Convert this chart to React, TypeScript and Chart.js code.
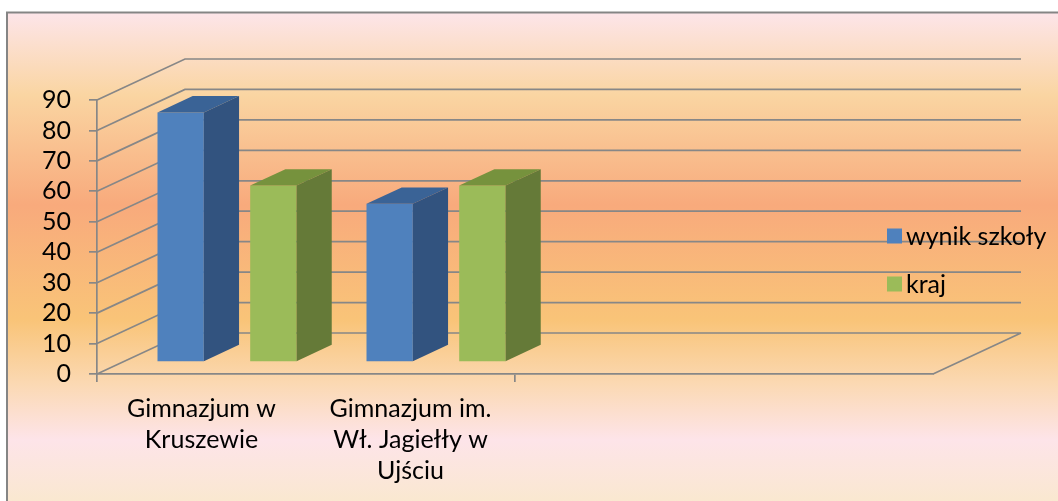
import React, { useEffect, useRef } from "react";
import { Chart, registerables } from "chart.js";

Chart.register(...registerables);

// ---- data ----
const categories: (string | string[])[] = [
  ["Gimnazjum w", "Kruszewie"],
  ["Gimnazjum im.", "Wł. Jagiełły w", "Ujściu"],
  "",
  "",
];
const seriesNames = ["wynik szkoły", "kraj"];
const schoolValues = [82, 52, null, null];
const countryValues = [58, 58, null, null];
const yMin = 0;
const yMax = 90;
const yStep = 10;

// ---- style ----
const frontColors = ["#4F81BD", "#9BBB59"];
const sideColors = ["#32537F", "#657A38"];
const topColors = ["#3A6396", "#76923D"];
const lineColor = "#878787";
const FONT = "Lato";
const FONT_SIZE = 25;

// 3D geometry (depth vector of the whole floor, and bar placement in depth)
const DX = 88;
const DY = -41;
const BAR_FRONT = 0.29;
const BAR_DEPTH = 0.4;

const threeD = {
  id: "threeD",
  beforeDraw(chart: any) {
    const { ctx, width, height, chartArea } = chart;
    ctx.save();
    ctx.fillStyle = "#ffffff";
    ctx.fillRect(0, 0, width, height);
    const g = ctx.createLinearGradient(0, 12, 0, height);
    const span = height - 12;
    const stop = (y: number, c: string) => g.addColorStop(Math.min(1, Math.max(0, (y - 12) / span)), c);
    stop(12, "rgb(253,229,234)");
    stop(95, "rgb(250,213,162)");
    stop(205, "rgb(248,170,124)");
    stop(320, "rgb(249,196,120)");
    stop(385, "rgb(251,217,180)");
    stop(440, "rgb(253,228,233)");
    stop(501, "rgb(250,232,208)");
    ctx.fillStyle = g;
    ctx.fillRect(7, 12, width, height);
    ctx.strokeStyle = "#858585";
    ctx.lineWidth = 2;
    ctx.strokeRect(7, 12.5, width + 10, height + 10);

    // walls
    const ys = chart.scales.y;
    ctx.strokeStyle = lineColor;
    ctx.lineWidth = 1.7;
    ctx.beginPath();
    for (let v = yMin; v <= yMax; v += yStep) {
      const yf = ys.getPixelForValue(v);
      ctx.moveTo(chartArea.left, yf);
      ctx.lineTo(chartArea.left + DX, yf + DY);
      ctx.lineTo(chartArea.right + DX, yf + DY);
    }
    ctx.moveTo(chartArea.right, chartArea.bottom);
    ctx.lineTo(chartArea.right + DX, chartArea.bottom + DY);
    ctx.stroke();
    ctx.restore();
  },
  beforeDatasetsDraw(chart: any) {
    chart.ctx.save();
    chart.ctx.translate(BAR_FRONT * DX, BAR_FRONT * DY);
  },
  afterDatasetsDraw(chart: any) {
    const ctx = chart.ctx;
    ctx.restore();
    const fx = BAR_FRONT * DX;
    const fy = BAR_FRONT * DY;
    const ddx = BAR_DEPTH * DX;
    const ddy = BAR_DEPTH * DY;
    ctx.save();
    chart.data.datasets.forEach((ds: any, di: number) => {
      const meta = chart.getDatasetMeta(di);
      meta.data.forEach((el: any, i: number) => {
        if (ds.data[i] == null) return;
        const p = el.getProps(["x", "y", "base", "width"], true);
        const l = p.x - p.width / 2 + fx;
        const r = p.x + p.width / 2 + fx;
        const t = p.y + fy;
        const b = p.base + fy;
        ctx.fillStyle = topColors[di];
        ctx.beginPath();
        ctx.moveTo(l, t);
        ctx.lineTo(r, t);
        ctx.lineTo(r + ddx, t + ddy);
        ctx.lineTo(l + ddx, t + ddy);
        ctx.closePath();
        ctx.fill();
        ctx.fillStyle = sideColors[di];
        ctx.beginPath();
        ctx.moveTo(r, t);
        ctx.lineTo(r + ddx, t + ddy);
        ctx.lineTo(r + ddx, b + ddy);
        ctx.lineTo(r, b);
        ctx.closePath();
        ctx.fill();
      });
    });
    ctx.restore();
  },
  afterDraw(chart: any) {
    const ctx = chart.ctx;
    ctx.save();
    ctx.font = `${FONT_SIZE}px ${FONT}`;
    ctx.textBaseline = "middle";
    ctx.textAlign = "left";
    chart.data.datasets.forEach((ds: any, di: number) => {
      const cy = 236 + di * 48;
      ctx.fillStyle = frontColors[di];
      ctx.fillRect(887, cy - 7.5, 15, 15);
      ctx.fillStyle = "#000000";
      ctx.fillText(ds.label, 906, cy + 1);
    });
    ctx.restore();
  },
};

export default function App() {
  const ref = useRef<HTMLCanvasElement>(null);
  useEffect(() => {
    const chart = new Chart(ref.current as HTMLCanvasElement, {
      type: "bar",
      data: {
        labels: categories,
        datasets: [
          {
            label: seriesNames[0],
            data: schoolValues,
            backgroundColor: frontColors[0],
            borderWidth: 0,
            categoryPercentage: 0.887,
            barPercentage: 0.5,
            clip: false,
          },
          {
            label: seriesNames[1],
            data: countryValues,
            backgroundColor: frontColors[1],
            borderWidth: 0,
            categoryPercentage: 0.887,
            barPercentage: 0.5,
            clip: false,
          },
        ],
      },
      plugins: [threeD],
      options: {
        responsive: false,
        animation: false,
        events: [],
        layout: { padding: { left: 0, top: 100, right: 125, bottom: 0 } },
        plugins: {
          legend: { display: false },
          tooltip: { enabled: false },
          title: { display: false },
        },
        scales: {
          x: {
            offset: true,
            grid: {
              offset: true,
              drawOnChartArea: false,
              drawTicks: true,
              tickLength: 8,
              lineWidth: 1.7,
              color: (c: any) => (c.index % 2 === 0 ? lineColor : "rgba(0,0,0,0)"),
            },
            border: { display: true, color: lineColor, width: 1.7 },
            ticks: {
              color: "#000000",
              font: { family: FONT, size: FONT_SIZE, lineHeight: 1.25 },
              padding: 11,
              maxRotation: 0,
              minRotation: 0,
              autoSkip: false,
            },
            afterFit: (s: any) => {
              s.height = 127;
            },
          },
          y: {
            min: yMin,
            max: yMax,
            grid: {
              drawOnChartArea: false,
              drawTicks: true,
              tickLength: 8,
              lineWidth: 1.7,
              color: lineColor,
            },
            border: { display: true, color: lineColor, width: 1.7 },
            ticks: {
              stepSize: yStep,
              autoSkip: false,
              color: "#000000",
              font: { family: FONT, size: FONT_SIZE },
              padding: 18,
            },
            afterFit: (s: any) => {
              s.width = 97;
            },
          },
        },
      },
    } as any);
    return () => chart.destroy();
  }, []);
  return (
    <div style={{ position: "fixed", left: 0, top: 0, width: 1058, height: 501 }}>
      <canvas ref={ref} width={1058} height={501} style={{ display: "block" }} />
    </div>
  );
}
